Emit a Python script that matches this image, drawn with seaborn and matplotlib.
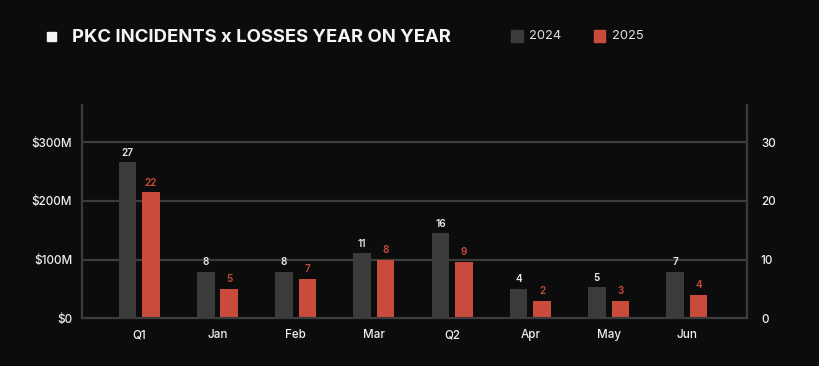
import matplotlib
matplotlib.use("Agg")
import matplotlib.pyplot as plt
import seaborn as sns
import pandas as pd
from matplotlib.patches import Rectangle

categories = ["Q1", "Jan", "Feb", "Mar", "Q2", "Apr", "May", "Jun"]
losses_2024 = [266, 79, 79, 111, 145, 50, 53, 79]   # $M
losses_2025 = [215, 50, 67, 100, 96, 30, 30, 40]    # $M
incidents_2024 = [27, 8, 8, 11, 16, 4, 5, 7]
incidents_2025 = [22, 5, 7, 8, 9, 2, 3, 4]
years = ["2024", "2025"]
left_ticks = [0, 100, 200, 300]
left_labels = ["$0", "$100M", "$200M", "$300M"]
right_ticks = [0, 10, 20, 30]

BG = "#0c0c0c"
GRAY = "#3b3b3b"
RED = "#c94b3b"
GRID = "#3c3c3c"
TXT = "#f0f0f0"

sns.set_theme(style="dark")
plt.rcParams["font.family"] = ["Inter", "DejaVu Sans"]

df = pd.DataFrame({
    "cat": categories * 2,
    "year": [years[0]] * len(categories) + [years[1]] * len(categories),
    "loss": losses_2024 + losses_2025,
})

fig = plt.figure(figsize=(8.2, 3.66), dpi=100, facecolor=BG)
ax = fig.add_axes([82 / 820, 1 - 318.3 / 366, (747 - 82) / 820, (318.3 - 105) / 366])
ax.set_facecolor(BG)

sns.barplot(data=df, x="cat", y="loss", hue="year", order=categories,
            hue_order=years, palette=[GRAY, RED], width=0.6, gap=0.25,
            saturation=1, ax=ax, legend=False, linewidth=0)

ax.set_xlim(-0.733, 7.77)
ax.set_ylim(0, 363)
ax.set_xlabel("")
ax.set_ylabel("")
ax.set_yticks(left_ticks)
ax.set_yticklabels(left_labels)
ax.tick_params(axis="y", length=0, pad=7, labelsize=8.4, colors=TXT)
ax.tick_params(axis="x", length=0, pad=8, labelsize=8.4, colors=TXT)
for lbl in ax.get_yticklabels() + ax.get_xticklabels():
    lbl.set_fontweight("medium")

for y in left_ticks[1:]:
    ax.axhline(y, color=GRID, lw=1.6, zorder=0)
ax.grid(False)

ax.spines["top"].set_visible(False)
for s in ["left", "right", "bottom"]:
    ax.spines[s].set_visible(True)
    ax.spines[s].set_color(GRID)
    ax.spines[s].set_linewidth(1.6)

ax2 = ax.twinx()
ax2.set_ylim(0, 363 / 10)
ax2.set_yticks(right_ticks)
ax2.tick_params(axis="y", length=0, pad=10, labelsize=8.4, colors=TXT)
for lbl in ax2.get_yticklabels():
    lbl.set_fontweight("medium")
for s in ax2.spines.values():
    s.set_visible(False)
ax2.grid(False)

# Count labels above bars
for cont, counts, col in zip(ax.containers, [incidents_2024, incidents_2025], ["#e8e8e8", RED]):
    for rect, c in zip(cont, counts):
        ax.annotate(str(c), (rect.get_x() + rect.get_width() / 2, rect.get_height()),
                    xytext=(0, 3.2), textcoords="offset points", ha="center", va="bottom",
                    fontsize=7.2, color=col, fontweight="semibold")

# Title & bullet
fig.patches.append(Rectangle((47.3 / 820, 1 - 40.7 / 366), 8.7 / 820, 8.4 / 366,
                             transform=fig.transFigure, color="#f5f5f5"))
fig.text(72 / 820, 1 - 37 / 366, "PKC INCIDENTS x LOSSES YEAR ON YEAR", color="#f5f5f5",
         fontsize=13.3, fontweight="bold", va="center", ha="left")

# Legend
for x0, col, lab in [(511, GRAY, years[0]), (594, RED, years[1])]:
    fig.patches.append(Rectangle((x0 / 820, 1 - 41.5 / 366), 11.5 / 820, 11.5 / 366,
                                 transform=fig.transFigure, color=col))
    fig.text((x0 + 18) / 820, 1 - 36 / 366, lab, color="#e0e0e0", fontsize=9.3,
             va="center", ha="left")

fig.savefig("out.png", dpi=100, facecolor=BG)
